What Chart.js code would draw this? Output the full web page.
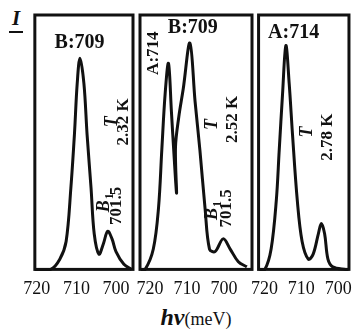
<!DOCTYPE html>
<html>
<head>
<meta charset="utf-8">
<script src="https://cdn.jsdelivr.net/npm/chart.js@4.4.0/dist/chart.umd.min.js"></script>
<style>
  body { margin: 0; background: #fff; width: 360px; height: 332px; overflow: hidden; position: relative; }
  canvas { position: absolute; top: 0; }
  #ylab { position: absolute; left: 9px; top: 8px; width: 14px; text-align: center;
          font: italic bold 21px 'Liberation Serif', serif; color: #111; line-height: 20px;
          border-bottom: 2px solid #111; padding-bottom: 3px; }
  #xlab { position: absolute; left: 0; top: 304px; width: 392px; text-align: center; color: #111;
          font-family: 'Liberation Serif', serif; }
  #xlab b { font: italic bold 24px 'Liberation Serif', serif; }
  #xlab span { font-size: 18px; }
</style>
</head>
<body>
<div id="ylab">I</div>
<div id="xlab"><b>hν</b><span>(meV)</span></div>
<canvas id="c1" width="135" height="309" style="left:14px"></canvas>
<canvas id="c2" width="144" height="309" style="left:124px"></canvas>
<canvas id="c3" width="121" height="309" style="left:241px"></canvas>
<script>
// ── Data (photon energy in meV, relative intensity) ────────
const tickValues = [720, 710, 700];

// T = 2.32 K
const energy1 = [720.5, 716.5, 714.2, 712.6, 711.4, 710.5, 709.8, 709.1, 708.1, 707.3, 706.3, 705.5, 704.3, 703.2, 702.1, 701.0, 700.0, 698.0, 696.0];
const inten1  = [0, 0, 0.04, 0.11, 0.32, 0.53, 0.73, 0.83, 0.73, 0.53, 0.32, 0.14, 0.06, 0.10, 0.15, 0.12, 0.07, 0.02, 0];

// T = 2.52 K
const energy2 = [722.5, 721.3, 719.1, 717.7, 716.8, 715.9, 715.0, 714.2, 713.5, 712.8, 713.1, 712.2, 711.0, 709.2, 707.8, 706.5, 705.1, 703.9, 702.4, 700.2, 698.3, 696.1, 693.8];
const inten2  = [0, 0, 0.08, 0.24, 0.47, 0.69, 0.81, 0.62, 0.45, 0.30, 0.48, 0.60, 0.71, 0.89, 0.66, 0.47, 0.24, 0.08, 0.07, 0.12, 0.08, 0.03, 0.01];

// T = 2.78 K
const energy3 = [721.4, 719.9, 718.2, 716.8, 716.0, 715.1, 714.2, 713.3, 712.4, 711.1, 709.8, 708.1, 706.8, 705.4, 704.6, 703.7, 702.8, 701.5, 698.0, 697.2];
const inten3  = [0, 0, 0.08, 0.27, 0.47, 0.69, 0.88, 0.73, 0.53, 0.27, 0.11, 0.04, 0.06, 0.14, 0.18, 0.14, 0.04, 0.01, 0, 0];

const INK = '#111';
const SERIF = "'Liberation Serif', serif";
const BIG = 'bold 20px ' + SERIF;
const ROT = 'bold 17px ' + SERIF;
const ITAL = 'italic bold 18px ' + SERIF;

// ── Box + labels plugin ────────────────────────────────────
const panelDecor = {
  id: 'panelDecor',
  afterDatasetsDraw(chart, args, opts) {
    const { ctx, chartArea: a, scales: { x, y } } = chart;
    ctx.save();
    ctx.strokeStyle = INK;
    ctx.lineWidth = 3;
    ctx.strokeRect(a.left, a.top, a.right - a.left, a.bottom - a.top);
    ctx.fillStyle = INK;
    ctx.textAlign = 'center';
    ctx.textBaseline = 'middle';
    (opts.notes || []).forEach(n => {
      ctx.save();
      ctx.translate(x.getPixelForValue(n.x), y.getPixelForValue(n.y));
      if (n.rot) ctx.rotate(-Math.PI / 2);
      ctx.font = n.font;
      if (n.sub) {
        const w = ctx.measureText(n.text).width;
        ctx.font = 'bold 12px ' + SERIF;
        const sw = ctx.measureText(n.sub).width;
        ctx.fillText(n.sub, w / 2 + 1, 5);
        ctx.font = n.font;
        ctx.fillText(n.text, -sw / 2, 0);
      } else {
        ctx.fillText(n.text, 0, 0);
      }
      ctx.restore();
    });
    ctx.restore();
  }
};

function makePanel(id, energy, inten, min, max, notes) {
  new Chart(document.getElementById(id), {
    type: 'line',
    data: {
      datasets: [{
        data: energy.map((e, i) => ({ x: e, y: inten[i] })),
        borderColor: INK,
        borderWidth: 3,
        pointRadius: 0,
        tension: 0.35,
        fill: false,
        clip: false
      }]
    },
    options: {
      responsive: false,
      animation: false,
      layout: { padding: { left: 16, right: id === 'c3' ? 12 : 16, top: 15, bottom: 0 } },
      plugins: { legend: { display: false }, tooltip: { enabled: false }, panelDecor: { notes } },
      scales: {
        x: {
          type: 'linear', reverse: true, min, max,
          afterBuildTicks: s => { s.ticks = tickValues.map(v => ({ value: v })); },
          grid: { display: false, drawTicks: false },
          border: { display: false },
          ticks: { padding: 9, color: INK, autoSkip: false, maxRotation: 0, font: { family: SERIF, size: 18 } }
        },
        y: { display: false, min: 0, max: 1 }
      }
    },
    plugins: [panelDecor]
  });
}

makePanel('c1', energy1, inten1, 695.7, 720.5, [
  { text: 'B:709', x: 709.2, y: 0.89, font: BIG },
  { text: 'T', x: 701.0, y: 0.58, rot: true, font: ITAL },
  { text: '2.32 K', x: 698.1, y: 0.58, rot: true, font: ROT },
  { text: 'B', sub: '1', x: 702.9, y: 0.26, rot: true, font: ITAL },
  { text: '701.5', x: 699.8, y: 0.25, rot: true, font: ROT }
]);

makePanel('c2', energy2, inten2, 692.4, 722.7, [
  { text: 'A:714', x: 718.9, y: 0.85, rot: true, font: ROT },
  { text: 'B:709', x: 708.4, y: 0.95, font: BIG },
  { text: 'T', x: 703.0, y: 0.57, rot: true, font: ITAL },
  { text: '2.52 K', x: 697.6, y: 0.59, rot: true, font: ROT },
  { text: 'B', sub: '1', x: 703.0, y: 0.23, rot: true, font: ITAL },
  { text: '701.5', x: 699.2, y: 0.24, rot: true, font: ROT }
]);

makePanel('c3', energy3, inten3, 697.1, 721.6, [
  { text: 'A:714', x: 712.1, y: 0.93, font: BIG },
  { text: 'T', x: 708.4, y: 0.54, rot: true, font: ITAL },
  { text: '2.78 K', x: 702.9, y: 0.52, rot: true, font: ROT }
]);
</script>
</body>
</html>
